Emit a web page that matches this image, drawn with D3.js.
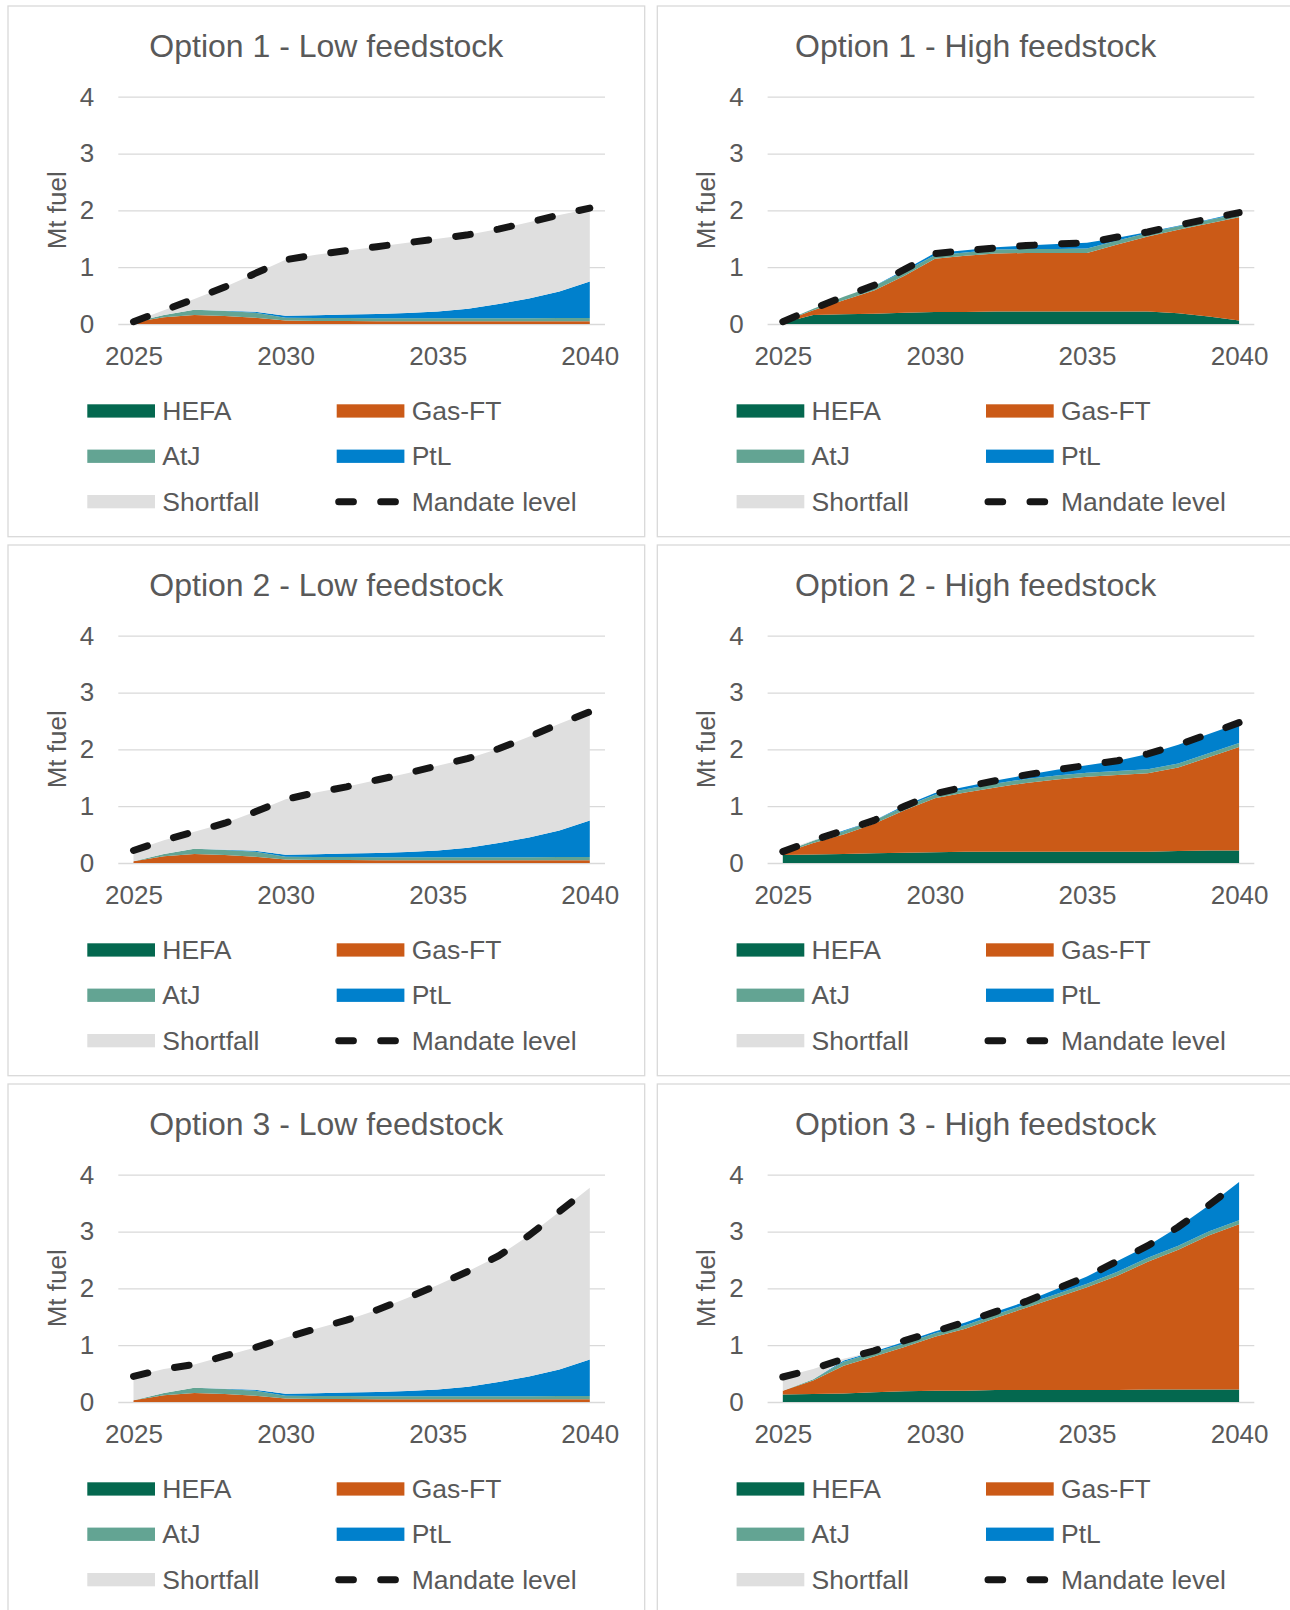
<!DOCTYPE html>
<html>
<head>
<meta charset="utf-8">
<script src="https://cdn.jsdelivr.net/npm/d3@7"></script>
<style>
  body { margin: 0; background: #ffffff; }
  text { font-family: "Liberation Sans", Arial, sans-serif; fill: #595959; }
</style>
</head>
<body>
<div id="chart"></div>
<script>
// Data (Mt fuel)

var years = [2025, 2026, 2027, 2028, 2029, 2030, 2031, 2032, 2033, 2034, 2035, 2036, 2037, 2038, 2039, 2040];
var xTickYears = [2025, 2030, 2035, 2040];
var yTicks = [0, 1, 2, 3, 4];
var seriesNames = ["HEFA", "Gas-FT", "AtJ", "PtL", "Shortfall"];

// supply is the same in all three low feedstock cases
var lowHefa  = [0, 0, 0, 0, 0, 0, 0, 0, 0, 0, 0, 0, 0, 0, 0, 0];
var lowGasFt = [0.03, 0.12, 0.16, 0.14, 0.11, 0.06, 0.055, 0.055, 0.05, 0.05, 0.05, 0.05, 0.05, 0.05, 0.05, 0.05];
var lowAtj   = [0, 0.04, 0.09, 0.09, 0.09, 0.05, 0.05, 0.05, 0.05, 0.05, 0.05, 0.05, 0.05, 0.05, 0.055, 0.055];
var lowPtl   = [0, 0, 0, 0.005, 0.015, 0.035, 0.05, 0.06, 0.075, 0.095, 0.12, 0.17, 0.25, 0.35, 0.465, 0.645];

var opt1LowShortfall = [0.01, 0.08, 0.19, 0.415, 0.675, 0.985, 1.065, 1.125, 1.185, 1.235, 1.28, 1.3, 1.32, 1.34, 1.35, 1.28];
var opt1LowMandate   = [0.04, 0.24, 0.44, 0.65, 0.89, 1.13, 1.22, 1.29, 1.36, 1.43, 1.5, 1.57, 1.67, 1.79, 1.92, 2.04];

var opt2LowShortfall = [0.19, 0.24, 0.3, 0.465, 0.685, 0.975, 1.085, 1.175, 1.285, 1.385, 1.49, 1.57, 1.66, 1.77, 1.88, 1.91];
var opt2LowMandate   = [0.22, 0.4, 0.55, 0.7, 0.9, 1.12, 1.24, 1.34, 1.46, 1.58, 1.71, 1.84, 2.01, 2.22, 2.45, 2.66];

var opt3LowShortfall = [0.42, 0.42, 0.41, 0.575, 0.745, 0.985, 1.135, 1.275, 1.445, 1.635, 1.84, 2.03, 2.22, 2.48, 2.78, 3.02];
var opt3LowMandate   = [0.45, 0.58, 0.66, 0.81, 0.96, 1.13, 1.29, 1.44, 1.62, 1.83, 2.06, 2.3, 2.57, 2.93, 3.35, 3.77];

var opt1HighHefa      = [0.02, 0.16, 0.17, 0.18, 0.2, 0.21, 0.21, 0.22, 0.22, 0.22, 0.22, 0.22, 0.22, 0.19, 0.13, 0.06];
var opt1HighGasFt     = [0.02, 0.08, 0.25, 0.41, 0.65, 0.94, 0.99, 1.02, 1.03, 1.03, 1.03, 1.18, 1.32, 1.47, 1.64, 1.82];
var opt1HighAtj       = [0, 0.03, 0.06, 0.08, 0.08, 0.06, 0.06, 0.07, 0.07, 0.07, 0.08, 0.07, 0.06, 0.06, 0.06, 0.06];
var opt1HighPtl       = [0, 0, 0, 0, 0.02, 0.04, 0.04, 0.04, 0.06, 0.09, 0.1, 0.05, 0.02, 0.01, 0.01, 0.02];
var opt1HighShortfall = [0, 0, 0, 0, 0, 0, 0, 0, 0, 0, 0, 0, 0, 0, 0, 0];
var opt1HighMandate   = [0.04, 0.27, 0.48, 0.68, 0.96, 1.24, 1.29, 1.34, 1.38, 1.41, 1.43, 1.53, 1.62, 1.74, 1.85, 1.96];

var opt2HighHefa      = [0.14, 0.15, 0.16, 0.17, 0.18, 0.19, 0.2, 0.2, 0.2, 0.2, 0.2, 0.2, 0.2, 0.21, 0.22, 0.22];
var opt2HighGasFt     = [0.03, 0.2, 0.34, 0.52, 0.75, 0.95, 1.04, 1.13, 1.21, 1.27, 1.32, 1.35, 1.38, 1.47, 1.64, 1.82];
var opt2HighAtj       = [0.02, 0.04, 0.06, 0.06, 0.06, 0.06, 0.06, 0.07, 0.07, 0.07, 0.07, 0.07, 0.07, 0.07, 0.07, 0.07];
var opt2HighPtl       = [0, 0, 0.01, 0, 0.02, 0.03, 0.04, 0.05, 0.07, 0.1, 0.13, 0.18, 0.27, 0.33, 0.34, 0.35];
var opt2HighShortfall = [0.02, 0.01, 0, 0, 0, 0, 0, 0, 0, 0, 0, 0, 0, 0, 0, 0];
var opt2HighMandate   = [0.2, 0.4, 0.57, 0.75, 1.0, 1.22, 1.34, 1.45, 1.55, 1.64, 1.72, 1.8, 1.92, 2.08, 2.27, 2.47];

var opt3HighHefa      = [0.13, 0.14, 0.15, 0.17, 0.19, 0.2, 0.2, 0.21, 0.21, 0.21, 0.21, 0.21, 0.22, 0.22, 0.22, 0.22];
var opt3HighGasFt     = [0.07, 0.24, 0.49, 0.63, 0.78, 0.95, 1.09, 1.27, 1.45, 1.63, 1.81, 2.01, 2.25, 2.46, 2.71, 2.91];
var opt3HighAtj       = [0, 0.02, 0.07, 0.07, 0.06, 0.06, 0.06, 0.06, 0.06, 0.06, 0.06, 0.07, 0.07, 0.07, 0.07, 0.07];
var opt3HighPtl       = [0, 0, 0.02, 0.02, 0.03, 0.03, 0.05, 0.05, 0.05, 0.09, 0.13, 0.19, 0.21, 0.33, 0.46, 0.67];
var opt3HighShortfall = [0.24, 0.18, 0.03, 0, 0, 0, 0, 0, 0, 0, 0, 0, 0, 0, 0, 0];
var opt3HighMandate   = [0.44, 0.58, 0.76, 0.9, 1.08, 1.24, 1.41, 1.59, 1.77, 1.99, 2.21, 2.48, 2.75, 3.08, 3.46, 3.87];

var panels = [
  { title: "Option 1 - Low feedstock", series: [lowHefa, lowGasFt, lowAtj, lowPtl, opt1LowShortfall], mandate: opt1LowMandate },
  { title: "Option 1 - High feedstock", series: [opt1HighHefa, opt1HighGasFt, opt1HighAtj, opt1HighPtl, opt1HighShortfall], mandate: opt1HighMandate },
  { title: "Option 2 - Low feedstock", series: [lowHefa, lowGasFt, lowAtj, lowPtl, opt2LowShortfall], mandate: opt2LowMandate },
  { title: "Option 2 - High feedstock", series: [opt2HighHefa, opt2HighGasFt, opt2HighAtj, opt2HighPtl, opt2HighShortfall], mandate: opt2HighMandate },
  { title: "Option 3 - Low feedstock", series: [lowHefa, lowGasFt, lowAtj, lowPtl, opt3LowShortfall], mandate: opt3LowMandate },
  { title: "Option 3 - High feedstock", series: [opt3HighHefa, opt3HighGasFt, opt3HighAtj, opt3HighPtl, opt3HighShortfall], mandate: opt3HighMandate }
];

// Styling
var colors = {
  "HEFA": "#04684f",
  "Gas-FT": "#cb5a17",
  "AtJ": "#63a493",
  "PtL": "#0080cc",
  "Shortfall": "#dfdfdf"
};
var gridColor = "#d9d9d9";
var dashPattern = "14.7 27.3";

var svgWidth = 1290;
var svgHeight = 1610;
var panelWidth = 636.7;
var panelHeight = 530.7;
var colX = [8, 657.3];
var rowY = [6, 545, 1084];

var plot = { left: 110.3, right: 597, top: 90.7, bottom: 318 };

var svg = d3.select("#chart")
  .append("svg")
  .attr("width", svgWidth)
  .attr("height", svgHeight);

var xScale = d3.scalePoint()
  .domain(years)
  .range([plot.left, plot.right])
  .padding(0.5);

var yScale = d3.scaleLinear()
  .domain([0, 4])
  .range([plot.bottom, plot.top]);

var stack = d3.stack().keys(seriesNames);

var area = d3.area()
  .x(d => xScale(d.data.year))
  .y0(d => yScale(d[0]))
  .y1(d => yScale(d[1]));

var mandateLine = d3.line()
  .x((d, i) => xScale(years[i]))
  .y(d => yScale(d));

panels.forEach(function(p, idx) {
  var col = idx % 2;
  var row = Math.floor(idx / 2);

  var g = svg.append("g")
    .attr("transform", `translate(${colX[col]}, ${rowY[row]})`);

  // panel frame
  g.append("rect")
    .attr("width", panelWidth)
    .attr("height", panelHeight)
    .attr("fill", "#ffffff")
    .attr("stroke", gridColor)
    .attr("stroke-width", 1.3);

  // title
  g.append("text")
    .attr("x", panelWidth / 2)
    .attr("y", 51)
    .attr("text-anchor", "middle")
    .style("font-size", "32px")
    .text(p.title);

  // gridlines + y labels
  var yAxis = g.append("g")
    .attr("transform", `translate(${plot.left}, 0)`)
    .call(d3.axisLeft(yScale)
      .tickValues(yTicks)
      .tickFormat(d3.format("d"))
      .tickSize(-(plot.right - plot.left))
      .tickPadding(24));
  yAxis.select(".domain").remove();
  yAxis.selectAll(".tick line").attr("stroke", gridColor).attr("stroke-width", 1.3);
  yAxis.selectAll(".tick text")
    .attr("fill", "#595959")
    .style("font-size", "26px")
    .style("font-family", "'Liberation Sans', Arial, sans-serif");

  // x labels
  var xAxis = g.append("g")
    .attr("transform", `translate(0, ${plot.bottom})`)
    .call(d3.axisBottom(xScale).tickValues(xTickYears).tickSize(0).tickPadding(23).tickFormat(d3.format("d")));
  xAxis.select(".domain").remove();
  xAxis.selectAll(".tick text")
    .attr("fill", "#595959")
    .style("font-size", "26px")
    .style("font-family", "'Liberation Sans', Arial, sans-serif");

  // axis title
  g.append("text")
    .attr("transform", `translate(48.7, ${(plot.top + plot.bottom) / 2}) rotate(-90)`)
    .attr("text-anchor", "middle")
    .attr("dy", "0.35em")
    .style("font-size", "26px")
    .text("Mt fuel");

  // stacked areas
  var table = years.map(function(yr, i) {
    var row = { year: yr };
    seriesNames.forEach(function(name, k) { row[name] = p.series[k][i]; });
    return row;
  });

  g.selectAll(".layer")
    .data(stack(table))
    .enter()
    .append("path")
    .attr("class", "layer")
    .attr("fill", d => colors[d.key])
    .attr("d", area);

  // mandate level
  g.append("path")
    .datum(p.mandate)
    .attr("fill", "none")
    .attr("stroke", "#161616")
    .attr("stroke-width", 7)
    .attr("stroke-linecap", "round")
    .attr("stroke-dasharray", dashPattern)
    .attr("d", mandateLine);

  // legend
  var legendItems = ["HEFA", "Gas-FT", "AtJ", "PtL", "Shortfall", "Mandate level"];
  var legendColX = [79.3, 328.7];
  var legendRowY = [405, 450.3, 495.7];

  legendItems.forEach(function(name, k) {
    var lx = legendColX[k % 2];
    var ly = legendRowY[Math.floor(k / 2)];
    if (name === "Mandate level") {
      g.append("line")
        .attr("x1", lx + 2)
        .attr("x2", lx + 58.7)
        .attr("y1", ly)
        .attr("y2", ly)
        .attr("stroke", "#161616")
        .attr("stroke-width", 7)
        .attr("stroke-linecap", "round")
        .attr("stroke-dasharray", dashPattern);
    } else {
      g.append("rect")
        .attr("x", lx)
        .attr("y", ly - 6.7)
        .attr("width", 67.7)
        .attr("height", 13.3)
        .attr("fill", colors[name]);
    }
    g.append("text")
      .attr("x", lx + 75)
      .attr("y", ly + 9)
      .style("font-size", "26.5px")
      .text(name);
  });
});
</script>
</body>
</html>
